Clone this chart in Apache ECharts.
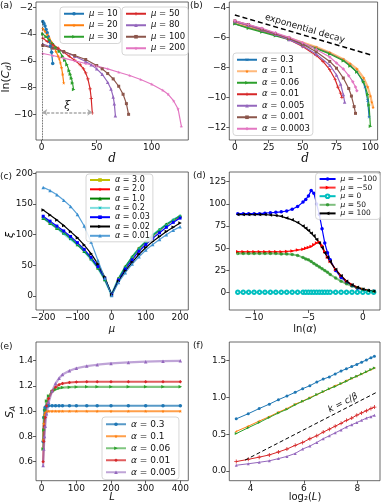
<!DOCTYPE html>
<html>
<head>
<meta charset="utf-8">
<script src="https://cdn.jsdelivr.net/npm/echarts@6/dist/echarts.min.js"></script>
<style>html,body{margin:0;padding:0;background:#fff}#main{width:382px;height:504px}</style>
</head>
<body>
<div id="main"></div>
<script>
// ---- (a) ln(C_d) vs d, one curve per mu
var aD10 = [1,2,3,4,5,6,7,8,9,10];
var aY10 = [-3.05,-3.2,-3.4,-3.65,-3.9,-4.2,-4.55,-4.9,-5.35,-6.2];
var aD20 = [1,3,5,7,9,11,13,15,16,17,18,19,20];
var aY20 = [-3.6,-3.8,-4.05,-4.3,-4.6,-4.95,-5.3,-5.65,-5.85,-6.15,-6.5,-7.0,-7.65];
var aD30 = [1,4,7,10,13,16,19,21,23,25,26,27,28,29];
var aY30 = [-4.0,-4.2,-4.45,-4.7,-5.0,-5.3,-5.65,-5.95,-6.3,-6.75,-7.0,-7.3,-7.65,-8.15];
var aD50 = [1,5,10,15,20,25,30,35,38,40,42,44,45,46];
var aY50 = [-4.3,-4.55,-4.8,-5.05,-5.35,-5.65,-5.95,-6.3,-6.6,-6.9,-7.35,-8.1,-8.8,-9.9];
var aD80 = [1,10,20,30,40,45,50,55,60,63,65,66,67];
var aY80 = [-4.75,-5.0,-5.3,-5.65,-6.05,-6.3,-6.6,-7.0,-7.6,-8.1,-8.7,-9.2,-10.1];
var aD100 = [1,10,20,30,40,50,55,60,65,70,74,77,79];
var aY100 = [-4.85,-5.05,-5.3,-5.6,-5.9,-6.35,-6.6,-6.95,-7.35,-7.9,-8.5,-9.2,-10.0];
var aD200 = [1,10,20,30,40,50,60,70,80,90,100,110,115,120,124,127];
var aY200 = [-5.45,-5.6,-5.8,-6.0,-6.2,-6.4,-6.6,-6.85,-7.1,-7.4,-7.75,-8.2,-8.5,-9.0,-9.6,-10.9];
var aXi = [0.5, 46, -9.85];          // xi arrow: from, to, level
var aXT = [0,50,100], aYT = [-10,-8,-6,-4,-2];

// ---- (b) ln(C_d) vs d, one curve per alpha
var bD03 = [0,10,20,30,40,50,60,70,80,85,90,94,96,98,99];
var bY03 = [-5.1,-5.35,-5.6,-5.85,-6.1,-6.4,-6.7,-7.05,-7.5,-7.85,-8.3,-8.85,-9.3,-10.2,-11.3];
var bD01 = [0,10,20,30,40,50,60,70,80,85,90,95,98,100,101,102];
var bY01 = [-5.05,-5.3,-5.55,-5.8,-6.05,-6.35,-6.65,-7.0,-7.45,-7.75,-8.1,-8.7,-9.3,-9.9,-10.3,-10.65];
var bD006 = [0,10,20,30,40,50,60,70,80,85,90,95,98,99,100];
var bY006 = [-5.1,-5.4,-5.65,-5.9,-6.15,-6.45,-6.75,-7.1,-7.55,-7.9,-8.3,-8.95,-9.8,-10.5,-11.9];
var bD001 = [0,10,20,30,40,50,60,65,70,74,76,78,79];
var bY001 = [-4.95,-5.2,-5.5,-5.8,-6.15,-6.6,-7.2,-7.6,-8.15,-8.8,-9.3,-9.7,-10.0];
var bD0005 = [0,10,20,30,40,50,60,70,75,78,80,81];
var bY0005 = [-4.95,-5.2,-5.5,-5.8,-6.15,-6.55,-7.1,-7.85,-8.5,-9.1,-9.8,-10.3];
var bD0001 = [0,10,20,30,40,50,60,70,75,80,84,86,88,89];
var bY0001 = [-4.9,-5.15,-5.45,-5.75,-6.05,-6.45,-6.95,-7.6,-8.05,-8.7,-9.4,-9.9,-10.6,-11.05];
var bD00003 = [0,10,20,30,40,50,60,70,75,80,84,87,89,90];
var bY00003 = [-4.9,-5.15,-5.4,-5.7,-6.0,-6.35,-6.8,-7.3,-7.7,-8.1,-8.55,-8.95,-9.3,-9.55];
var bExp = [[0,-4.51],[100.5,-7.17]];
var bXT = [0,25,50,75,100], bYT = [-12,-10,-8,-6,-4];

// ---- (c) xi vs mu
var cMu = [-200,-180,-160,-140,-120,-100,-80,-60,-40,-20,0,20,40,60,80,100,120,140,160,180,200];
var c30  = [127,119,111,103,94,84,73,61,46,27,2,28,47,63,77,88,98,107,116,123,129];
var c20  = [127,119,111,103,94,84,73,61,46,27,2,28,47,63,77,88,98,107,116,123,129];
var c10  = [127,119,111,103,94,84,73,61,46,27,2,28,48,64,78,89,99,108,117,124,131];
var c02  = [127,119,111,102,93,84,73,60,46,27,2,28,47,63,77,88,99,108,116,124,130];
var c003 = [130,122,114,106,97,87,76,63,48,29,2,26,44,59,73,84,94,103,112,120,127];
var c002 = [140,132,124,115,105,95,83,69,52,31,2,24,41,55,68,79,89,97,105,112,119];
var c001 = [177,172,165,156,146,133,114,88,58,29,1,22,38,52,64,75,84,92,100,107,113];
var cXT = [-200,-100,0,100,200], cYT = [0,50,100,150,200];

// ---- (d) xi vs ln(alpha)
var dLnA = [-11.5,-11,-10.5,-10,-9.5,-9,-8.5,-8,-7.5,-7,-6.5,-6,-5.5,-5.25,-5,-4.75,-4.5,-4.25,-4,-3.75,-3.5,-3.25,-3,-2.5,-2,-1.5,-1,-0.5,0,0.5,1];
var dM100n = [89,89,89,89,89,89.5,90,90.5,91,92,94,97,102,105,109,115,112,100,88,72,56,45,37,25,17,12,8,5,3.5,2.5,1.5];
var dM50n  = [46,46,46,46,46,46,46,46,46,46.5,47,48,49,50,51,52,54,56,57,53,46,40,35,26,19,13,9,6,4,2.5,1.5];
var dM0    = [0.5,0.5,0.5,0.5,0.5,0.5,0.5,0.5,0.5,0.5,0.5,0.5,0.5,0.5,0.5,0.5,0.5,0.5,0.5,0.5,0.5,0.5,0.5,0.5,0.5,0.5,0.5,0.5,0.5,0.5,0.5];
var dM50   = [44,44,44,44,44,44,44,44,43.5,43.5,43,42,39.5,38,37,35,33,31,29,27,25,23,20.5,16.5,13,10,7.5,5.5,4,2.5,1.5];
var dM100  = [88,88,88,88,88,88,87.5,87,86,84,82,79,75,72.5,70,67,64,60,56,51,45,40,35,26,19,13,9,6,4,2.5,1.5];
var dXT = [-10,-5,0], dYT = [0,25,50,75,100,125];

// ---- (e) S_A vs L
var eL = [4,6,8,10,14,20,30,40,50,60,80,100,130,160,200,250,300,350,400];
var e03   = [0.76,0.95,1.01,1.03,1.04,1.042,1.042,1.042,1.042,1.042,1.042,1.042,1.042,1.042,1.042,1.042,1.042,1.042,1.042];
var e01   = [0.77,0.9,0.97,0.99,1.0,1.0,1.0,1.0,1.0,1.0,1.0,1.0,1.0,1.0,1.0,1.0,1.0,1.0,1.0];
var e006  = [0.70,0.85,0.95,1.01,1.08,1.12,1.155,1.172,1.182,1.187,1.19,1.192,1.193,1.193,1.193,1.193,1.193,1.193,1.193];
var e001  = [0.60,0.76,0.88,0.95,1.04,1.10,1.16,1.19,1.21,1.22,1.228,1.231,1.233,1.233,1.233,1.233,1.233,1.233,1.233];
var e0005 = [0.57,0.70,0.80,0.88,0.98,1.07,1.16,1.22,1.26,1.29,1.32,1.34,1.357,1.368,1.378,1.386,1.392,1.396,1.399];
var eXT = [0,100,200,300,400], eYT = [0.6,0.8,1.0,1.2,1.4];

// ---- (f) vs log2(L)
var fX = [3.46,3.91,4.32,4.70,5.04,5.36,5.67,5.95,6.22,6.48,6.72,6.95,7.17,7.39,7.59,7.79,7.98,8.16,8.34,8.51,8.64];
var f03   = [0.71,0.78,0.85,0.91,0.97,1.02,1.07,1.12,1.16,1.21,1.25,1.28,1.32,1.36,1.39,1.42,1.45,1.48,1.51,1.54,1.56];
var f01   = [0.54,0.61,0.68,0.74,0.80,0.85,0.91,0.95,1.00,1.04,1.08,1.12,1.16,1.19,1.23,1.26,1.29,1.32,1.35,1.38,1.40];
var f006  = [0.51,0.59,0.66,0.73,0.79,0.84,0.90,0.95,0.99,1.04,1.08,1.12,1.15,1.19,1.22,1.26,1.29,1.32,1.35,1.38,1.40];
var f001  = [0.13,0.16,0.19,0.22,0.26,0.30,0.35,0.39,0.44,0.48,0.53,0.57,0.61,0.65,0.69,0.72,0.76,0.79,0.82,0.85,0.87];
var f0005 = [0.08,0.10,0.12,0.14,0.17,0.20,0.24,0.30,0.34,0.39,0.44,0.48,0.52,0.56,0.60,0.63,0.66,0.69,0.72,0.74,0.76];
var fK = [[3.79,0.15],[8.72,1.07]];
var fXT = [4,6,8], fYT = [0,0.5,1.0,1.5];

var C = {blue:'#1f77b4', orange:'#ff7f0e', green:'#2ca02c', red:'#d62728', purple:'#9467bd', brown:'#8c564b', pink:'#e377c2'};
var STAR = 'path://M5,0L6.2,3.6L10,3.6L7,5.9L8.1,9.5L5,7.3L1.9,9.5L3,5.9L0,3.6L3.8,3.6Z';
var PLUS = 'path://M4,0H6V4H10V6H6V10H4V6H0V4H4Z';
var FONT = 'DejaVu Sans';

function zip(xs, ys){ return xs.map(function(x,i){ return [x, ys[i]]; }); }
function ser(name, gi, xs, ys, color, sym, o){
    o = o || {};
    return {
        name: name, type: 'line', xAxisIndex: gi, yAxisIndex: gi,
        data: zip(xs, ys), symbol: sym, symbolSize: o.size || 3.5, symbolRotate: o.rot || 0,
        lineStyle: {color: color, width: o.w || 1.2, opacity: o.op == null ? 1 : o.op},
        itemStyle: {color: color, opacity: o.mop == null ? 1 : o.mop},
        z: o.z || 2, silent: true, animation: false
    };
}
function minus(v){ return (v < 0 ? '\u2212' : '') + Math.abs(v); }
function fix1(v){ return v.toFixed(1); }
function ax(gi, min, max, ticks, fmt){
    return {type:'value', gridIndex:gi, min:min, max:max,
        axisLine:{show:false, onZero:false}, splitLine:{show:false},
        axisTick:{show:true, length:3, customValues:ticks, lineStyle:{color:'#333', width:0.8}},
        axisLabel:{customValues:ticks, formatter:fmt || minus, fontSize:9, color:'#111', margin:3, fontFamily:FONT}};
}
var gridBox = {show:true, borderColor:'#444', borderWidth:0.8, backgroundColor:'transparent'};
var grids = [
    [36, 2, 152.3, 138], [229.3, 2, 150.7, 138],
    [36, 172, 152.3, 138], [229.3, 172, 150.7, 138],
    [36, 342, 152.3, 138.7], [229.3, 342, 150.7, 138.7]
].map(function(g){ return Object.assign({left:g[0], top:g[1], width:g[2], height:g[3]}, gridBox); });

// names get zero-width spaces so that legends of different panels stay apart
function nm(s, k){ return s + new Array(k + 1).join('\u200b'); }
function legend(names, pos, fs, lh, gap, iw){
    return Object.assign({
        data: names, orient:'vertical', itemGap:gap, itemWidth:iw || 20, itemHeight:4.5,
        padding:[2,3,2,3], borderColor:'#ccc', borderWidth:0.8, borderRadius:3,
        backgroundColor:'rgba(255,255,255,0.85)', selectedMode:false,
        formatter: function(n){ return n.replace(/\u200b/g,'').replace(/(μ|α)/, '{i|$1}'); },
        textStyle:{fontSize:fs, lineHeight:lh, color:'#111', fontFamily:FONT,
            rich:{i:{fontStyle:'italic', fontSize:fs, lineHeight:lh, fontFamily:FONT}}}
    }, pos);
}

var series = [
    // (a)
    Object.assign(ser('μ = 10', 0, aD10, aY10, C.blue, 'circle'), {markLine:{silent:true, symbol:['none','none'], animation:false, data:[
        [{coord:[aXi[0], -3.0], lineStyle:{color:'#222', type:'dotted', width:0.8}, label:{show:false}}, {coord:[aXi[0], -11.92]}],
        [{coord:[aXi[0], aXi[2]], symbol:'arrow', symbolSize:5, lineStyle:{color:'#aaa', type:[3,1.5], width:1.6},
          label:{show:true, position:'middle', formatter:'ξ', fontSize:11, fontStyle:'italic', fontFamily:'DejaVu Serif', color:'#111', distance:1}},
         {coord:[aXi[1], aXi[2]], symbol:'arrow', symbolSize:5}]
    ]}}),
    ser('μ = 20', 0, aD20, aY20, C.orange, STAR),
    ser('μ = 30', 0, aD30, aY30, C.green, 'triangle', {rot:-90}),
    ser('μ = 50', 0, aD50, aY50, C.red, PLUS),
    ser('μ = 80', 0, aD80, aY80, C.purple, 'triangle'),
    ser('μ = 100', 0, aD100, aY100, C.brown, 'rect', {size:3}),
    ser('μ = 200', 0, aD200, aY200, C.pink, STAR),
    // (b)
    Object.assign(ser(nm('α = 0.3',1), 1, bD03, bY03, C.blue, PLUS, {rot:45}), {markLine:{silent:true, symbol:['none','none'], animation:false, data:[
        [{coord:bExp[0], lineStyle:{color:'#000', type:[5,3], width:1.5},
          label:{show:true, position:'middle', formatter:'exponential decay', fontSize:9, fontFamily:FONT, color:'#111', distance:2}},
         {coord:bExp[1]}]
    ]}}),
    ser(nm('α = 0.1',1), 1, bD01, bY01, C.orange, STAR, {w:2.2, op:0.55}),
    ser(nm('α = 0.06',1), 1, bD006, bY006, C.green, 'triangle', {rot:-90}),
    ser(nm('α = 0.01',1), 1, bD001, bY001, C.red, PLUS),
    ser(nm('α = 0.005',1), 1, bD0005, bY0005, C.purple, 'triangle'),
    ser(nm('α = 0.001',1), 1, bD0001, bY0001, C.brown, 'rect', {size:3}),
    ser(nm('α = 0.0003',1), 1, bD00003, bY00003, C.pink, 'diamond'),
    // (c)
    ser(nm('α = 3.0',2), 2, cMu, c30, '#bfbf00', 'rect', {size:3}),
    ser(nm('α = 2.0',2), 2, cMu, c20, '#ff0000', STAR),
    ser(nm('α = 1.0',2), 2, cMu, c10, '#008000', 'triangle'),
    ser(nm('α = 0.2',2), 2, cMu, c02, '#00bfbf', PLUS, {w:2.5, op:0.5, rot:45}),
    ser(nm('α = 0.03',2), 2, cMu, c003, '#0000ff', 'rect', {size:3}),
    ser(nm('α = 0.02',2), 2, cMu, c002, '#000000', 'triangle', {rot:-90}),
    ser(nm('α = 0.01',2), 2, cMu, c001, '#3a8fd0', 'triangle', {op:0.85}),
    // (d)
    ser('μ = \u2212100', 3, dLnA, dM100n, '#0000ff', 'circle'),
    ser('μ = \u221250', 3, dLnA, dM50n, '#ff0000', 'triangle', {rot:-90, w:1.5, op:0.8}),
    ser('μ = 0', 3, dLnA, dM0, '#00bfbf', 'emptyCircle'),
    ser(nm('μ = 50',3), 3, dLnA, dM50, '#008000', 'circle', {w:2, op:0.5, mop:0.6}),
    ser(nm('μ = 100',3), 3, dLnA, dM100, '#000000', 'triangle', {rot:90}),
    // (e)
    ser(nm('α = 0.3',4), 4, eL, e03, C.blue, 'circle', {w:2, op:0.75}),
    ser(nm('α = 0.1',4), 4, eL, e01, C.orange, STAR, {w:2, op:0.75}),
    ser(nm('α = 0.06',4), 4, eL, e006, C.green, 'triangle', {w:2.2, op:0.6, rot:-90}),
    ser(nm('α = 0.01',4), 4, eL, e001, C.red, 'diamond', {w:2, op:0.75}),
    ser(nm('α = 0.005',4), 4, eL, e0005, C.purple, 'triangle', {w:2.2, op:0.6}),
    // (f)
    Object.assign(ser(nm('f0.3',5), 5, fX, f03, C.blue, 'circle', {size:3, w:1}), {markLine:{silent:true, symbol:['none','none'], animation:false, data:[
        [{coord:fK[0], lineStyle:{color:'#000', type:[4,2.5], width:1}, label:{show:false}}, {coord:fK[1]}]
    ]}}),
    ser(nm('f0.1',5), 5, fX, f01, C.orange, STAR, {size:3, w:1}),
    ser(nm('f0.06',5), 5, fX, f006, C.green, 'triangle', {size:3, rot:-90, w:1}),
    ser(nm('f0.01',5), 5, fX, f001, C.red, PLUS, {size:4, w:1}),
    ser(nm('f0.005',5), 5, fX, f0005, C.purple, 'triangle', {size:3, w:1})
];

function txt(x, y, text, o){
    o = o || {};
    return {type:'text', x:x, y:y, rotation:o.rot || 0, z:100, silent:true,
        style:{text:text, fontSize:o.fs || 9, fontFamily:o.ff || FONT, fontStyle:o.it ? 'italic' : 'normal',
            fill:'#111', align:o.align || 'left', verticalAlign:o.va || 'top', rich:o.rich}};
}
var sub = function(fs){ return {
    n:{fontSize:fs, fontFamily:FONT, lineHeight:fs + 4, verticalAlign:'middle'},
    i:{fontSize:fs, fontFamily:FONT, fontStyle:'italic', lineHeight:fs + 4, verticalAlign:'middle'},
    s:{fontSize:fs * 0.7, fontFamily:FONT, fontStyle:'italic', lineHeight:fs * 0.7, verticalAlign:'bottom'}
}; };

var graphics = [
    txt(0, 1, '(a)'), txt(190, 1, '(b)'), txt(0, 172, '(c)'), txt(193, 171, '(d)'), txt(0, 342, '(e)'), txt(193, 341, '(f)'),
    txt(6, 77, '{n|ln(}{i|C}{s|d}{n|)}', {rot:Math.PI/2, align:'center', va:'middle', rich:sub(11)}),
    txt(10, 235, 'ξ', {rot:Math.PI/2, align:'center', va:'middle', fs:11, it:true}),
    txt(10, 412, '{i|S}{s|A}', {rot:Math.PI/2, align:'center', va:'middle', rich:sub(11)}),
    txt(112, 159, 'd', {align:'center', va:'middle', fs:12, it:true, ff:'DejaVu Serif'}),
    txt(305, 159, 'd', {align:'center', va:'middle', fs:12, it:true, ff:'DejaVu Serif'}),
    txt(112, 329, 'μ', {align:'center', va:'middle', fs:10, it:true}),
    txt(305, 329, '{n|ln(}{i|α}{n|)}', {align:'center', va:'middle', rich:sub(10)}),
    txt(112, 497, 'L', {align:'center', va:'middle', fs:10, it:true}),
    txt(305, 497, '{n|log\u2082(}{i|L}{n|)}', {align:'center', va:'middle', rich:sub(10)}),
    txt(343, 403, '{i|k} = {i|c}/{i|β}', {rot:0.475, align:'center', va:'middle', rich:{
        i:{fontSize:9, fontStyle:'italic', fontFamily:FONT}}, fs:9})
];

var option = {
    animation: false,
    backgroundColor: '#fff',
    textStyle: {fontFamily: FONT},
    grid: grids,
    xAxis: [
        ax(0, -5.2, 133.3, aXT), ax(1, -4.1, 105.3, bXT), ax(2, -221, 224, cXT),
        ax(3, -12.28, 1.58, dXT), ax(4, -16.5, 423, eXT), ax(5, 3.2, 8.85, fXT)
    ],
    yAxis: [
        ax(0, -11.92, -1.6, aYT), ax(1, -12.82, -3.65, bYT), ax(2, -22.8, 202.1, cYT),
        ax(3, -19.5, 135.9, dYT), ax(4, 0.449, 1.548, eYT, fix1), ax(5, -0.13, 1.754, fYT, fix1)
    ],
    legend: [
        legend(['μ = 10','μ = 20','μ = 30'], {left:60, top:7}, 8.5, 9.5, 2),
        legend(['μ = 50','μ = 80','μ = 100','μ = 200'], {left:122, top:7}, 8.5, 9.5, 2),
        legend(['α = 0.3','α = 0.1','α = 0.06','α = 0.01','α = 0.005','α = 0.001','α = 0.0003'].map(function(s){ return nm(s,1); }), {left:233, top:53}, 8.5, 9.5, 2),
        legend(['α = 3.0','α = 2.0','α = 1.0','α = 0.2','α = 0.03','α = 0.02','α = 0.01'].map(function(s){ return nm(s,2); }), {left:86, top:174}, 8, 8, 1.3),
        legend(['μ = \u2212100','μ = \u221250','μ = 0',nm('μ = 50',3),nm('μ = 100',3)], {right:2, top:173}, 7.5, 7.5, 0.6, 16),
        legend(['α = 0.3','α = 0.1','α = 0.06','α = 0.01','α = 0.005'].map(function(s){ return nm(s,4); }), {left:102, top:417}, 9, 10.5, 1.5)
    ],
    series: series,
    graphic: graphics
};

var chart = echarts.init(document.getElementById('main'), null, {renderer:'canvas'});
chart.setOption(option);
</script>
</body>
</html>
